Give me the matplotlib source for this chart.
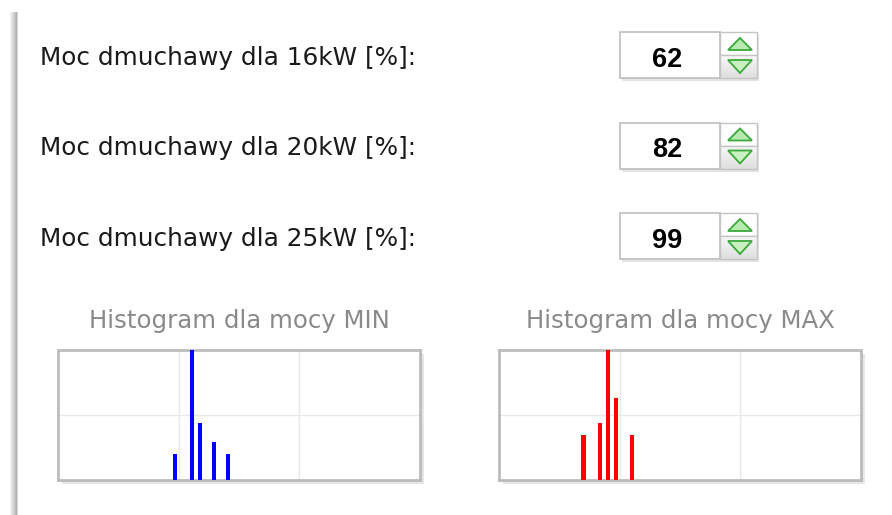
import matplotlib
matplotlib.use("Agg")
import matplotlib.pyplot as plt
from matplotlib.patches import Rectangle, Polygon

# Dane
etykiety = ["Moc dmuchawy dla 16kW [%]:", "Moc dmuchawy dla 20kW [%]:", "Moc dmuchawy dla 25kW [%]:"]
wartosci = [62, 82, 99]

min_x = [97, 111, 118, 129, 141]
min_h = [20, 100, 44, 29, 20]
max_x = [70, 84, 90, 97, 110]
max_h = [35, 44, 100, 63, 35]

W, H = 892, 515
fig = plt.figure(figsize=(W / 100, H / 100), dpi=100)
fig.patch.set_facecolor("white")

# tlo w pikselach
bg = fig.add_axes([0, 0, 1, 1])
bg.set_xlim(0, W)
bg.set_ylim(H, 0)
bg.axis("off")

# pionowy pasek po lewej
for i, c in enumerate(["#f2f2f2", "#e8e8e8", "#dedede", "#d4d4d4", "#cacaca", "#bdbdbd", "#b0b0b0", "#d8d8d8"]):
    bg.add_patch(Rectangle((10 + i, 12), 1, H - 12, color=c, lw=0))

# wiersze z polami liczbowymi
for i, (txt, val) in enumerate(zip(etykiety, wartosci)):
    dy = i * 90.5
    bg.text(40, 65 + dy, txt, fontsize=17.8, family="DejaVu Sans", color="#1a1a1a", va="baseline")
    top = 32 + dy
    # cien
    bg.add_patch(Rectangle((622, top + 2), 137, 47, color="#e4e4e4", lw=0, zorder=1))
    bg.add_patch(Rectangle((620, top), 100, 46, fc="white", ec="#bdbdbd", lw=1.2, zorder=2))
    bg.add_patch(Rectangle((720, top), 37, 23, fc="white", ec="#c4c4c4", lw=1.0, zorder=2))
    # dolna polowa z lekkim gradientem
    for k in range(23):
        g = 0.97 - 0.1 * k / 22
        bg.add_patch(Rectangle((720, top + 23 + k), 37, 1, color=(g, g, g), lw=0, zorder=2))
    bg.add_patch(Rectangle((720, top + 23), 37, 23, fc="none", ec="#c4c4c4", lw=1.0, zorder=3))
    bg.text(667.5, 66.7 + dy, str(val), fontsize=19.5, family="Liberation Sans", weight="bold",
            color="black", ha="center", va="baseline", zorder=4)
    # strzalki
    bg.add_patch(Polygon([(728, top + 18), (752, top + 18), (740, top + 6)], closed=True,
                         fc="#b6eab0", ec="#3aaa3a", lw=1.3, zorder=4))
    bg.add_patch(Polygon([(728, top + 28), (752, top + 28), (740, top + 41)], closed=True,
                         fc="#c8f0c2", ec="#3aaa3a", lw=1.3, zorder=4))

# histogramy
def histogram(x0, tytul, xs, hs, kolor):
    cx = x0 + 181
    bg.text(cx, 328, tytul, fontsize=17.6, family="DejaVu Sans", color="#8a8a8a",
            ha="center", va="baseline")
    # cien ramki
    bg.add_patch(Rectangle((x0 + 4, 354), 362, 130, color="#e6e6e6", lw=0))
    bg.add_patch(Rectangle((x0 + 2, 352), 362, 130, color="#d6d6d6", lw=0))
    ax = fig.add_axes([x0 / W, (H - 480) / H, 362 / W, 130 / H])
    ax.set_facecolor("white")
    ax.bar(xs, hs, width=3.4, color=kolor, zorder=3)
    ax.set_xlim(0, 300)
    ax.set_ylim(0, 100)
    ax.set_xticks([100, 200])
    ax.set_yticks([50])
    ax.grid(True, color="#e8e8e8", lw=1)
    ax.tick_params(length=0, labelbottom=False, labelleft=False)
    for s in ax.spines.values():
        s.set_color("#bcbcbc")
        s.set_linewidth(2)
    return ax

histogram(58, "Histogram dla mocy MIN", min_x, min_h, "#0000ff")
histogram(499, "Histogram dla mocy MAX", max_x, max_h, "#ff0000")

fig.savefig("out.png", dpi=100)
